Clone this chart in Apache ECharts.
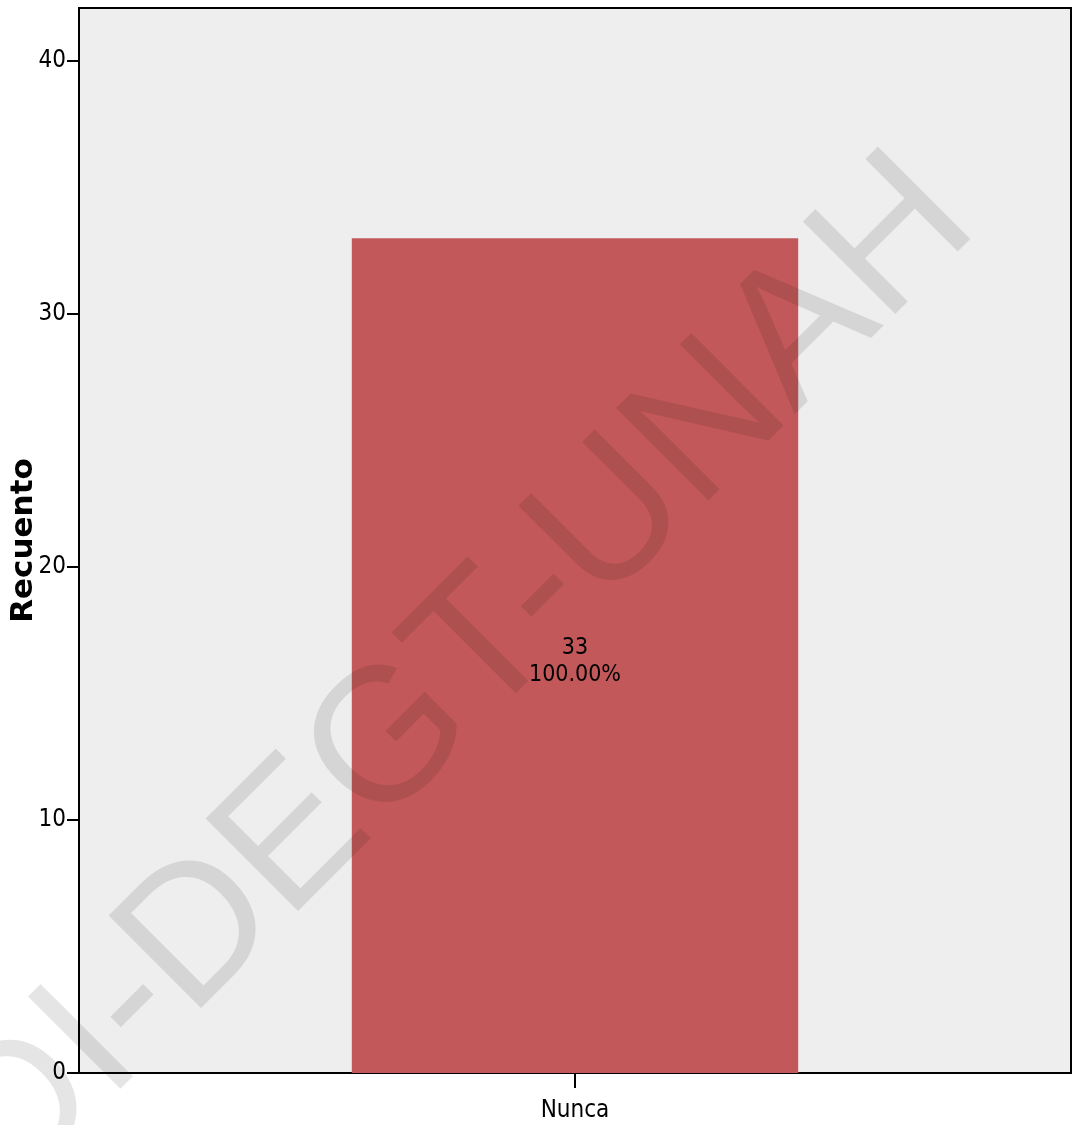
<!DOCTYPE html>
<html>
<head>
<meta charset="utf-8">
<script src="https://cdn.jsdelivr.net/npm/echarts@6/dist/echarts.min.js"></script>
<style>
html,body{margin:0;padding:0;background:#ffffff;}
#chart{width:1074px;height:1125px;}
</style>
</head>
<body>
<div id="chart"></div>
<script>
const categories = ['Nunca'];
const counts = [33];
const percents = ['100.00%'];
const yTicks = [0, 10, 20, 30, 40];
const yAxisTitle = 'Recuento';
const watermarkText = 'DI-DEGT-UNAH';

const narrow = "Liberation Sans Narrow, Arial Narrow, DejaVu Sans Condensed, sans-serif";

const chart = echarts.init(document.getElementById('chart'), null, {renderer: 'canvas'});
chart.setOption({
  animation: false,
  backgroundColor: '#ffffff',
  grid: {
    left: 79, right: 3, top: 8, bottom: 52,
    containLabel: false,
    outerBoundsMode: 'none',
    show: true, backgroundColor: '#eeeeee', borderColor: '#000000', borderWidth: 2
  },
  xAxis: {
    type: 'category',
    data: categories,
    axisLine: {lineStyle: {color: '#000', width: 2}},
    axisTick: {show: true, alignWithLabel: true, length: 15, lineStyle: {color: '#000', width: 2}},
    axisLabel: {color: '#000', fontFamily: narrow, fontSize: 24, margin: 26},
    splitLine: {show: false}
  },
  yAxis: {
    type: 'value',
    min: 0, max: 42.1, interval: 10,
    name: yAxisTitle,
    nameLocation: 'middle',
    nameGap: 40,
    nameMoveOverlap: false,
    nameRotate: 90,
    nameTextStyle: {color: '#000', fontFamily: 'DejaVu Sans, sans-serif', fontWeight: 'bold', fontSize: 31},
    axisLine: {show: true, lineStyle: {color: '#000', width: 2}},
    axisTick: {show: true, length: 12, lineStyle: {color: '#000', width: 2}, customValues: yTicks},
    axisLabel: {color: '#000', fontFamily: narrow, fontSize: 24, margin: 13, customValues: yTicks},
    splitLine: {show: false}
  },
  series: [{
    type: 'bar',
    data: counts,
    barWidth: '45%',
    itemStyle: {color: '#c2585a'},
    label: {
      show: true,
      position: 'inside',
      offset: [0, 6],
      color: '#000',
      fontFamily: narrow,
      fontSize: 23,
      lineHeight: 27,
      formatter: function (p) { return counts[p.dataIndex] + '\n' + percents[p.dataIndex]; }
    }
  }],
  graphic: [{
    type: 'text',
    x: 459, y: 676,
    rotation: Math.PI / 4,
    silent: true,
    z: 100,
    style: {
      text: watermarkText,
      fill: 'rgba(0,0,0,0.1)',
      fontFamily: 'Liberation Sans, Arial, sans-serif',
      fontSize: 190,
      fontWeight: 'normal',
      align: 'center',
      verticalAlign: 'middle'
    }
  }]
});
</script>
</body>
</html>
